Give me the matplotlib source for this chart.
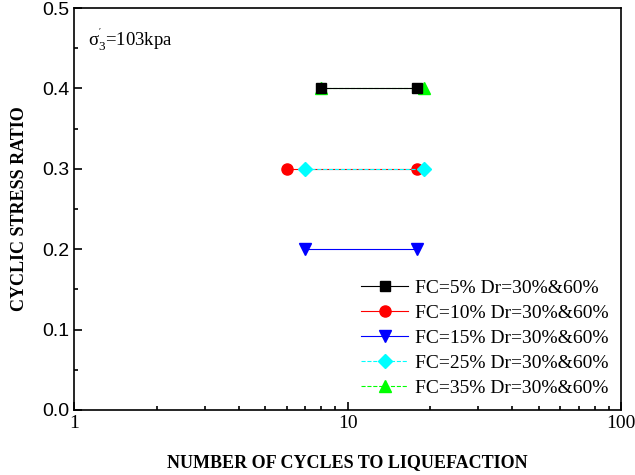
import matplotlib.pyplot as plt
from matplotlib.ticker import FixedLocator, LogLocator, NullFormatter

# cycles to liquefaction (Dr=30%, Dr=60%) and cyclic stress ratio
labels = ['FC=5% Dr=30%&60%', 'FC=10% Dr=30%&60%', 'FC=15% Dr=30%&60%',
          'FC=25% Dr=30%&60%', 'FC=35% Dr=30%&60%']
cycles = [[8, 18], [6, 18], [7, 18], [7, 19], [8, 19]]
csr = [[0.4, 0.4], [0.3, 0.3], [0.2, 0.2], [0.3, 0.3], [0.4, 0.4]]

colors = ['black', 'red', 'blue', 'cyan', 'lime']
markers = ['s', 'o', 'v', 'D', '^']
styles = ['-', '-', '-', '--', '--']
msizes = [7, 8, 8, 7, 8]
zorders = [10, 4, 4, 5, 3]

fig, ax = plt.subplots(figsize=(6.35, 4.75), dpi=100)
fig.subplots_adjust(left=0.117, right=0.978, top=0.983, bottom=0.137)

for i in range(len(labels)):
    ax.plot(cycles[i], csr[i], linestyle=styles[i], color=colors[i], marker=markers[i],
            markersize=msizes[i], linewidth=0.8, label=labels[i], zorder=zorders[i])

ax.set_xscale('log')
ax.set_xlim(1, 100)
ax.set_ylim(0, 0.5)
ax.xaxis.set_major_locator(FixedLocator([1, 10, 100]))
ax.xaxis.set_major_formatter(plt.FuncFormatter(lambda v, p: f'{v:g}'))
ax.xaxis.set_minor_locator(LogLocator(base=10, subs=range(2, 10)))
ax.xaxis.set_minor_formatter(NullFormatter())
ax.set_yticks([0.0, 0.1, 0.2, 0.3, 0.4, 0.5])
ax.set_yticks([0.05, 0.15, 0.25, 0.35, 0.45], minor=True)

ax.tick_params(which='both', direction='in', top=False, right=False, width=1.2)
ax.tick_params(which='major', length=6)
ax.tick_params(which='minor', length=3)
for s in ax.spines.values():
    s.set_linewidth(1.2)

for lab in ax.get_xticklabels():
    lab.set_fontfamily('Liberation Serif')
    lab.set_fontsize(14)
for lab in ax.get_yticklabels():
    lab.set_fontfamily('Liberation Sans')
    lab.set_fontsize(14)

ax.set_xlabel('NUMBER OF CYCLES TO LIQUEFACTION', fontfamily='Liberation Serif',
              fontweight='bold', fontsize=13, labelpad=16)
ax.set_ylabel('CYCLIC STRESS RATIO', fontfamily='Liberation Serif',
              fontweight='bold', fontsize=13, labelpad=10)

ax.text(1.12, 0.46, r"$\mathregular{\sigma_3^{'}}$=103kpa", fontfamily='Liberation Serif',
        fontsize=13.5, va='center')

leg = ax.legend(loc='lower right', frameon=False, prop={'family': 'Liberation Serif', 'size': 14},
                handlelength=2.4, handletextpad=0.35, labelspacing=0.38, borderaxespad=0.25)

fig.savefig('out.png')
